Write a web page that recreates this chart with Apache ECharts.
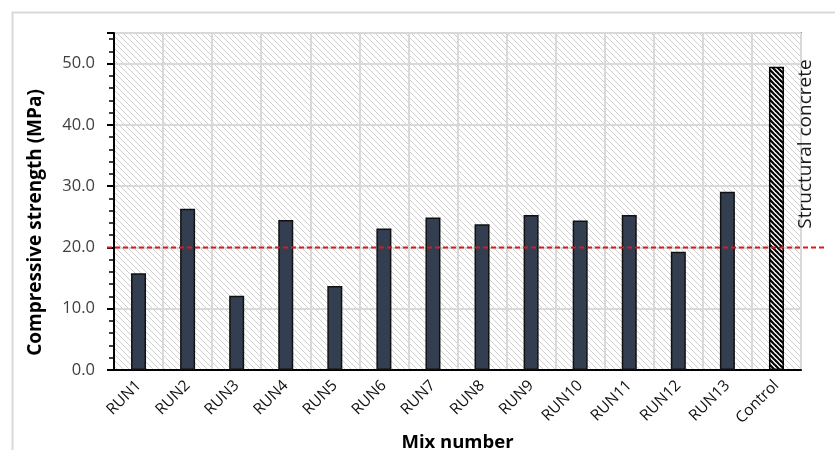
<!DOCTYPE html>
<html>
<head>
<meta charset="utf-8">
<script src="https://cdn.jsdelivr.net/npm/echarts@6/dist/echarts.min.js"></script>
<style>
  html, body { margin: 0; padding: 0; background: #fff; }
  #chart { width: 835px; height: 450px; }
</style>
</head>
<body>
<div id="chart"></div>
<script>
// Mix designs and their compressive strength (MPa)
const categories = ['RUN1', 'RUN2', 'RUN3', 'RUN4', 'RUN5', 'RUN6', 'RUN7',
  'RUN8', 'RUN9', 'RUN10', 'RUN11', 'RUN12', 'RUN13', 'Control'];
const strengths = [15.8, 26.3, 12.1, 24.5, 13.7, 23.1, 24.9,
  23.8, 25.3, 24.4, 25.3, 19.3, 29.1, 49.5];
const controlName = 'Control';
const threshold = 20;          // minimum strength for structural concrete
const thresholdLabel = 'Structural concrete';
const yTicks = [0, 10, 20, 30, 40, 50];
const yMax = 55;

const FONT = 'Open Sans';

// Diagonal hatch tile used as a fill pattern
function hatch(size, color, width, bg) {
  const c = document.createElement('canvas');
  c.width = size; c.height = size;
  const g = c.getContext('2d');
  if (bg) { g.fillStyle = bg; g.fillRect(0, 0, size, size); }
  g.strokeStyle = color;
  g.lineWidth = width;
  for (const o of [-size, 0, size]) {
    g.beginPath();
    g.moveTo(o - 1, -1);
    g.lineTo(o + size + 1, size + 1);
    g.stroke();
  }
  return c;
}

const plotHatch = { image: hatch(6, '#cfcfcf', 1, '#ffffff'), repeat: 'repeat' };
const controlHatch = { image: hatch(5, '#000000', 2.2, '#ffffff'), repeat: 'repeat' };

const barData = categories.map((name, i) => {
  const item = { value: strengths[i] };
  if (name === controlName) {
    item.itemStyle = { color: controlHatch, borderColor: '#000', borderWidth: 1.5 };
  }
  return item;
});

const chart = echarts.init(document.getElementById('chart'), null, { renderer: 'canvas' });

chart.setOption({
  animation: false,
  backgroundColor: '#ffffff',
  textStyle: { fontFamily: FONT },
  grid: [
    {
      left: 114, right: 34, top: 33, bottom: 80,
      outerBoundsMode: 'none',
      containLabel: false,
      show: true,
      backgroundColor: plotHatch,
      borderColor: '#404040',
      borderWidth: 1.5
    },
    // wider band that carries the threshold line past the plot edges
    { left: 107, right: 8, top: 33, bottom: 80, outerBoundsMode: 'none', containLabel: false, show: false }
  ],
  xAxis: [
    {
      type: 'category',
      gridIndex: 0,
      data: categories,
      name: 'Mix number',
      nameLocation: 'middle',
      nameGap: 57,
      nameTextStyle: { fontSize: 18.5, fontWeight: 'bold', color: '#000', fontFamily: FONT },
      axisLine: { show: true, lineStyle: { color: '#000', width: 2 } },
      axisTick: { show: false },
      axisLabel: { rotate: 45, fontSize: 15.5, color: '#111', margin: 13, interval: 0 },
      splitLine: { show: true, lineStyle: { color: '#d9d9d9', width: 2 } }
    },
    { type: 'value', gridIndex: 1, min: 0, max: 1, show: false }
  ],
  yAxis: [
    {
      type: 'value',
      gridIndex: 0,
      min: 0, max: yMax, interval: 10,
      name: 'Compressive strength (MPa)',
      nameLocation: 'middle',
      nameGap: 69,
      nameTextStyle: { fontSize: 19, fontWeight: 'bold', color: '#000', fontFamily: FONT, padding: [0, 42, 0, 0] },
      axisLine: { show: true, lineStyle: { color: '#000', width: 2 } },
      axisTick: { show: true, length: 7, lineStyle: { color: '#000', width: 2 } },
      minorTick: { show: true, splitNumber: 5, length: 5, lineStyle: { color: '#000', width: 1.5 } },
      axisLabel: {
        fontSize: 16.5, color: '#404040', margin: 19, showMaxLabel: false,
        formatter: v => (yTicks.includes(v) ? v.toFixed(1) : '')
      },
      splitLine: { show: true, lineStyle: { color: '#d9d9d9', width: 2 } }
    },
    { type: 'value', gridIndex: 1, min: 0, max: yMax, show: false }
  ],
  series: [
    {
      type: 'bar',
      xAxisIndex: 0, yAxisIndex: 0,
      data: barData,
      barWidth: 15,
      itemStyle: { color: '#333f50', borderColor: '#111', borderWidth: 1.5 },
      z: 3
    },
    {
      type: 'line',
      xAxisIndex: 1, yAxisIndex: 1,
      data: [[0, threshold], [1, threshold]],
      symbol: 'none',
      lineStyle: { color: '#e8141c', width: 2, type: [5, 3] },
      z: 4
    }
  ],
  graphic: [
    {
      type: 'rect',
      left: 10, top: 10,
      shape: { width: 840, height: 460 },
      style: { fill: 'none', stroke: '#d9d9d9', lineWidth: 2 },
      z: -1
    },
    {
      type: 'text',
      x: 806, y: 144,
      rotation: Math.PI / 2,
      style: {
        text: thresholdLabel,
        font: '19px "' + FONT + '"',
        fill: '#1a1a1a',
        align: 'center',
        verticalAlign: 'middle'
      },
      z: 5
    }
  ]
});
</script>
</body>
</html>
